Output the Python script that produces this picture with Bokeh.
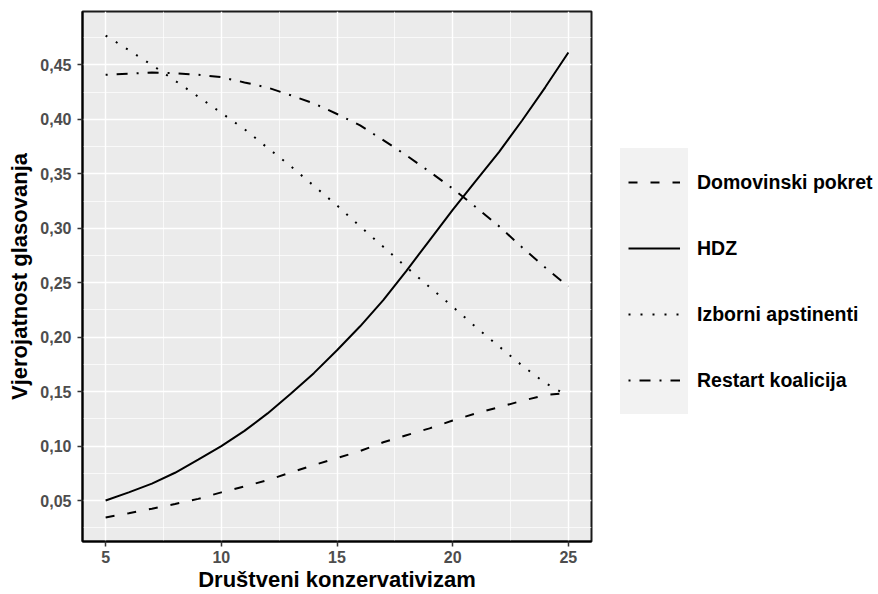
from bokeh.plotting import figure
from bokeh.layouts import row
from bokeh.models import (Range1d, FixedTicker, CustomJSTickFormatter, Legend, LegendItem)
from bokeh.embed import file_html
from bokeh.resources import INLINE

# ---- data ----
konzervativizam = list(range(5, 26))
domovinski_pokret = [0.0345, 0.0383, 0.0425, 0.0468, 0.0515, 0.0575, 0.0630, 0.0687, 0.0757, 0.0826,
                     0.0890, 0.0955, 0.1035, 0.1100, 0.1163, 0.1235, 0.1300, 0.1357, 0.1416, 0.1468, 0.1490]
hdz = [0.0500, 0.0575, 0.0655, 0.0755, 0.0875, 0.1000, 0.1140, 0.1300, 0.1480, 0.1670,
       0.1880, 0.2100, 0.2340, 0.2610, 0.2890, 0.3170, 0.3435, 0.3700, 0.3990, 0.4295, 0.4615]
izborni_apstinenti = [0.4770, 0.4637, 0.4500, 0.4356, 0.4209, 0.4060, 0.3910, 0.3739, 0.3570, 0.3390,
                      0.3210, 0.3017, 0.2830, 0.2643, 0.2460, 0.2280, 0.2093, 0.1916, 0.1740, 0.1580, 0.1460]
restart_koalicija = [0.4410, 0.4420, 0.4430, 0.4425, 0.4410, 0.4388, 0.4340, 0.4293, 0.4222, 0.4147,
                     0.4050, 0.3945, 0.3810, 0.3670, 0.3520, 0.3365, 0.3195, 0.3020, 0.2825, 0.2640, 0.2466]
series_names = ["Domovinski pokret", "HDZ", "Izborni apstinenti", "Restart koalicija"]
x_ticks = [5, 10, 15, 20, 25]
y_ticks = [0.05, 0.10, 0.15, 0.20, 0.25, 0.30, 0.35, 0.40, 0.45]

FONT = "Liberation Sans"

all_y = domovinski_pokret + hdz + izborni_apstinenti + restart_koalicija
ymin, ymax = min(all_y), max(all_y)
ypad = (ymax - ymin) * 0.05
xmin, xmax = min(konzervativizam), max(konzervativizam)
xpad = (xmax - xmin) * 0.05

p = figure(width=600, height=594,
           x_range=Range1d(xmin - xpad, xmax + xpad),
           y_range=Range1d(ymin - ypad, ymax + ypad),
           output_backend="svg", toolbar_location=None,
           min_border_left=82, min_border_right=9, min_border_top=11, min_border_bottom=53)

p.background_fill_color = "#EBEBEB"
p.border_fill_color = "white"
p.outline_line_color = "#1a1a1a"
p.outline_line_width = 2

x_minor = [(a + b) / 2 for a, b in zip(x_ticks[:-1], x_ticks[1:])]
y_minor = [y_ticks[0] - 0.025] + [(a + b) / 2 for a, b in zip(y_ticks[:-1], y_ticks[1:])] + [y_ticks[-1] + 0.025]
p.xaxis.ticker = FixedTicker(ticks=x_ticks, minor_ticks=x_minor)
p.yaxis.ticker = FixedTicker(ticks=y_ticks, minor_ticks=y_minor)
p.yaxis.formatter = CustomJSTickFormatter(code="return tick.toFixed(2).replace('.', ',');")

for g in (p.xgrid, p.ygrid):
    g.grid_line_color = "white"
    g.grid_line_width = 1.4
    g.minor_grid_line_color = "white"
    g.minor_grid_line_width = 0.7

p.xaxis.axis_label = "Društveni konzervativizam"
p.yaxis.axis_label = "Vjerojatnost glasovanja"
for ax in (p.xaxis, p.yaxis):
    ax.axis_label_text_font = FONT
    ax.axis_label_text_font_style = "bold"
    ax.axis_label_text_font_size = "22px"
    ax.axis_label_text_color = "black"
    ax.major_label_text_font = FONT
    ax.major_label_text_font_style = "bold"
    ax.major_label_text_font_size = "16px"
    ax.major_label_text_color = "#4D4D4D"
    ax.major_tick_out = 5
    ax.major_tick_in = 0
    ax.major_tick_line_color = "#333333"
    ax.major_tick_line_width = 1.5
    ax.minor_tick_line_color = None
    ax.axis_line_color = "black"
    ax.axis_line_width = 2
p.xaxis.major_label_standoff = 4
p.xaxis.axis_label_standoff = 1
p.yaxis.major_label_standoff = 6
p.yaxis.axis_label_standoff = 5

styles = {
    "Domovinski pokret": "9 13",
    "HDZ": "solid",
    "Izborni apstinenti": "2 10",
    "Restart koalicija": "2 9 11 9",
}
values = {
    "Domovinski pokret": domovinski_pokret,
    "HDZ": hdz,
    "Izborni apstinenti": izborni_apstinenti,
    "Restart koalicija": restart_koalicija,
}
for name in series_names:
    p.line(konzervativizam, values[name], line_color="black", line_width=2,
           line_dash=styles[name])

# ---- legend panel (separate canvas to the right; frame aligned with the plot) ----
lg = figure(width=278, height=594, x_range=Range1d(0, 1), y_range=Range1d(0, 1),
            output_backend="svg", toolbar_location=None,
            x_axis_location=None, y_axis_location=None, min_border=0)
lg.grid.visible = False
lg.outline_line_color = None
lg.background_fill_color = "white"
lg.border_fill_color = "white"

nan = float("nan")
key_renderers = [lg.line(x=[nan], y=[nan], line_color="black", line_width=2, line_dash=styles[n])
                 for n in series_names]

leg_keys = Legend(items=[LegendItem(label=" ", renderers=[r]) for r in key_renderers],
                  location=(20, 127), glyph_width=52, glyph_height=52,
                  label_standoff=0, label_width=0, label_height=52, label_text_font_size="1px",
                  spacing=14, padding=7, margin=0,
                  background_fill_color="#F2F2F2", background_fill_alpha=1.0,
                  border_line_color="#F2F2F2", border_line_width=1)
leg_labels = Legend(items=[LegendItem(label=n, renderers=[r]) for n, r in zip(series_names, key_renderers)],
                    location=(89, 127), glyph_width=0, glyph_height=52,
                    label_standoff=0, label_height=52,
                    label_text_font=FONT, label_text_font_style="bold",
                    label_text_font_size="19.5px", label_text_color="black",
                    spacing=14, padding=7, margin=0,
                    background_fill_alpha=0, border_line_color="white", border_line_width=1)
lg.add_layout(leg_keys)
lg.add_layout(leg_labels)

layout = row(p, lg, spacing=0)
open("out.html", "w").write(file_html(layout, INLINE))
